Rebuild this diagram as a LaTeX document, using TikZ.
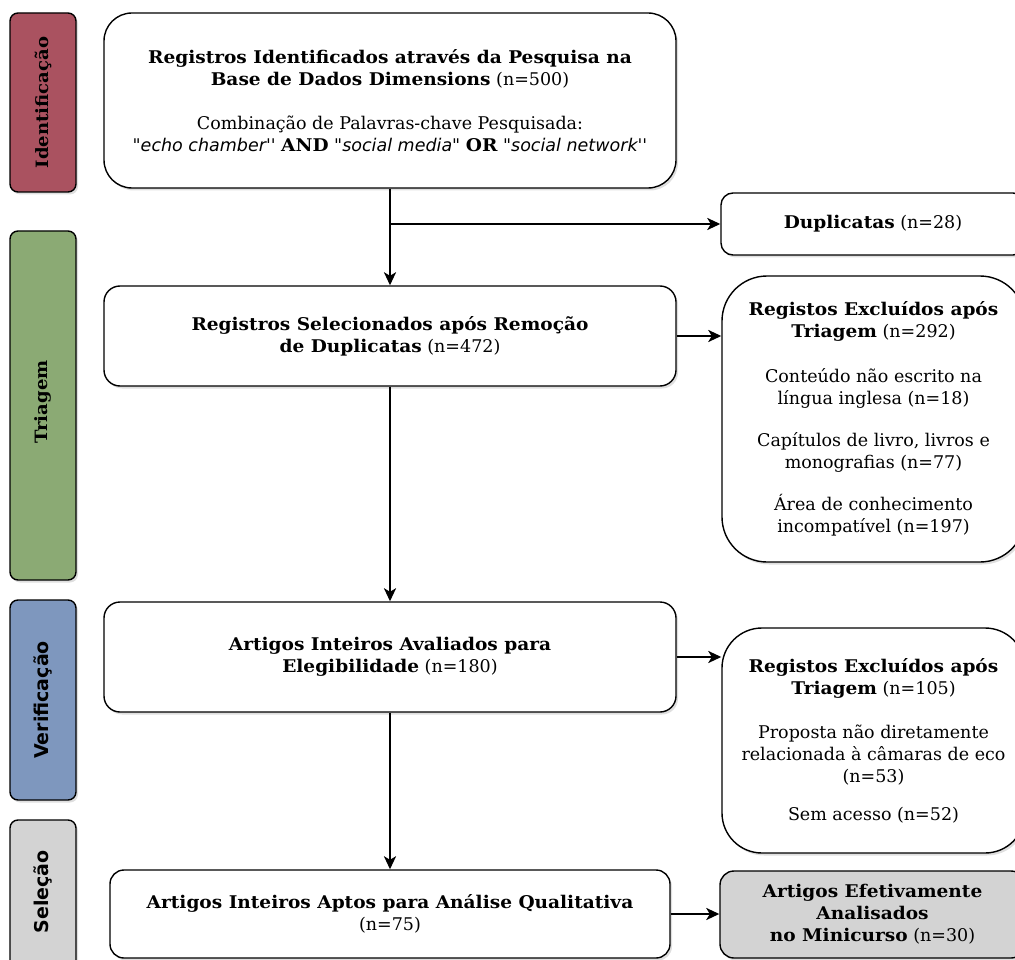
\documentclass[tikz,border=0pt]{standalone}
\usepackage{fontspec}
\setmainfont{DejaVu Serif}[Ligatures=TeXOff, BoldFeatures={FakeStretch=1.06}]
\setsansfont{DejaVu Sans}[Ligatures=TeXOff]
\usetikzlibrary{arrows.meta,shadows}
\definecolor{cid}{RGB}{170,82,96}
\definecolor{ctri}{RGB}{139,170,116}
\definecolor{cver}{RGB}{126,151,190}
\definecolor{csel}{RGB}{211,211,211}
\tikzset{
  box/.style={draw=black, line width=1.4pt, fill=white, align=center,
    drop shadow={shadow xshift=2pt, shadow yshift=-2.5pt, opacity=0.25},
    font=\fontsize{17.5}{22}\selectfont, inner sep=0pt},
  side/.style={draw=black, line width=1.4pt, rounded corners=8pt,
    drop shadow={shadow xshift=2pt, shadow yshift=-2.5pt, opacity=0.25},
    minimum width=66pt},
  sidelabel/.style={rotate=90, font=\fontsize{17}{20}\selectfont\bfseries},
  sidelabelsf/.style={rotate=90, font=\fontsize{19}{22}\selectfont\sffamily\bfseries},
  arr/.style={line width=2.3pt, -{Stealth[length=13pt,width=12pt,inset=3.5pt]}}
}
\newcommand{\sit}[1]{{\sffamily\itshape #1}}
\begin{document}
\begin{tikzpicture}[x=1pt,y=-1pt]
\useasboundingbox (0,0) rectangle (1015,960);
\clip (0,0) rectangle (1015,960);
% side bars
\node[side, fill=cid, minimum height=179pt] (sid) at (43,102.5) {};
\node[sidelabel] (sidl) at (sid.center) {Identificação};
\node[side, fill=ctri, minimum height=349pt] (stri) at (43,405.5) {};
\node[sidelabel] (stril) at (43,402) {Triagem};
\node[side, fill=cver, minimum height=200pt] (sver) at (43,700) {};
\node[sidelabelsf] (sverl) at (sver.center) {Verificação};
\node[side, fill=csel, minimum height=160pt] (ssel) at (43,900) {};
\node[sidelabelsf] (ssell) at (43,892) {Seleção};
% main boxes
\node[box, rounded corners=28pt, minimum width=572pt, minimum height=175pt] (top) at (390,100.5)
  {\textbf{Registros Identificados através da Pesquisa na}\\
   \textbf{Base de Dados Dimensions} (n=500)\\[22pt]
   Combinação de Palavras-chave Pesquisada:\\
   "\sit{echo chamber}'' \textbf{AND} "\sit{social media}" \textbf{OR} "\sit{social network}''};
\node[box, rounded corners=12pt, minimum width=304pt, minimum height=62pt] (dup) at (873,224)
  {\textbf{Duplicatas} (n=28)};
\node[box, rounded corners=16pt, minimum width=572pt, minimum height=100pt] (b2) at (390,336)
  {\textbf{Registros Selecionados após Remoção}\\
   \textbf{de Duplicatas} (n=472)};
\node[box, rounded corners=45pt, minimum width=303pt, minimum height=286pt] (ex1) at (873.5,419)
  {\textbf{Registos Excluídos após}\\
   \textbf{Triagem} (n=292)\\[23pt]
   Conteúdo não escrito na\\
   língua inglesa (n=18)\\[20pt]
   Capítulos de livro, livros e\\
   monografias (n=77)\\[20pt]
   Área de conhecimento\\
   incompatível (n=197)};
\node[box, rounded corners=16pt, minimum width=572pt, minimum height=110pt] (b3) at (390,657)
  {\textbf{Artigos Inteiros Avaliados para}\\
   \textbf{Elegibilidade} (n=180)};
\node[box, rounded corners=40pt, minimum width=303pt, minimum height=225pt] (ex2) at (873.5,740.5)
  {\textbf{Registos Excluídos após}\\
   \textbf{Triagem} (n=105)\\[22pt]
   Proposta não diretamente\\
   relacionada à câmaras de eco\\
   (n=53)\\[16pt]
   Sem acesso (n=52)};
\node[box, rounded corners=14pt, minimum width=560pt, minimum height=88pt] (b4) at (390,914)
  {\textbf{Artigos Inteiros Aptos para Análise Qualitativa}\\
   (n=75)};
\node[box, fill=csel, rounded corners=14pt, minimum width=305pt, minimum height=87pt] (fin) at (872.5,914.5)
  {\textbf{Artigos Efetivamente}\\
   \textbf{Analisados}\\
   \textbf{no Minicurso} (n=30)};
% connectors
\coordinate (br) at (top.south |- dup.west);
\draw[arr] (top.south) -- (b2.north);
\draw[arr] (br) -- (dup.west);
\draw[arr] (b2.east) -- (b2.east -| ex1.west);
\draw[arr] (b2.south) -- (b3.north);
\draw[arr] (b3.east) -- (b3.east -| ex2.west);
\draw[arr] (b3.south) -- (b4.north);
\draw[arr] (b4.east) -- (b4.east -| fin.west);
\end{tikzpicture}
\end{document}
